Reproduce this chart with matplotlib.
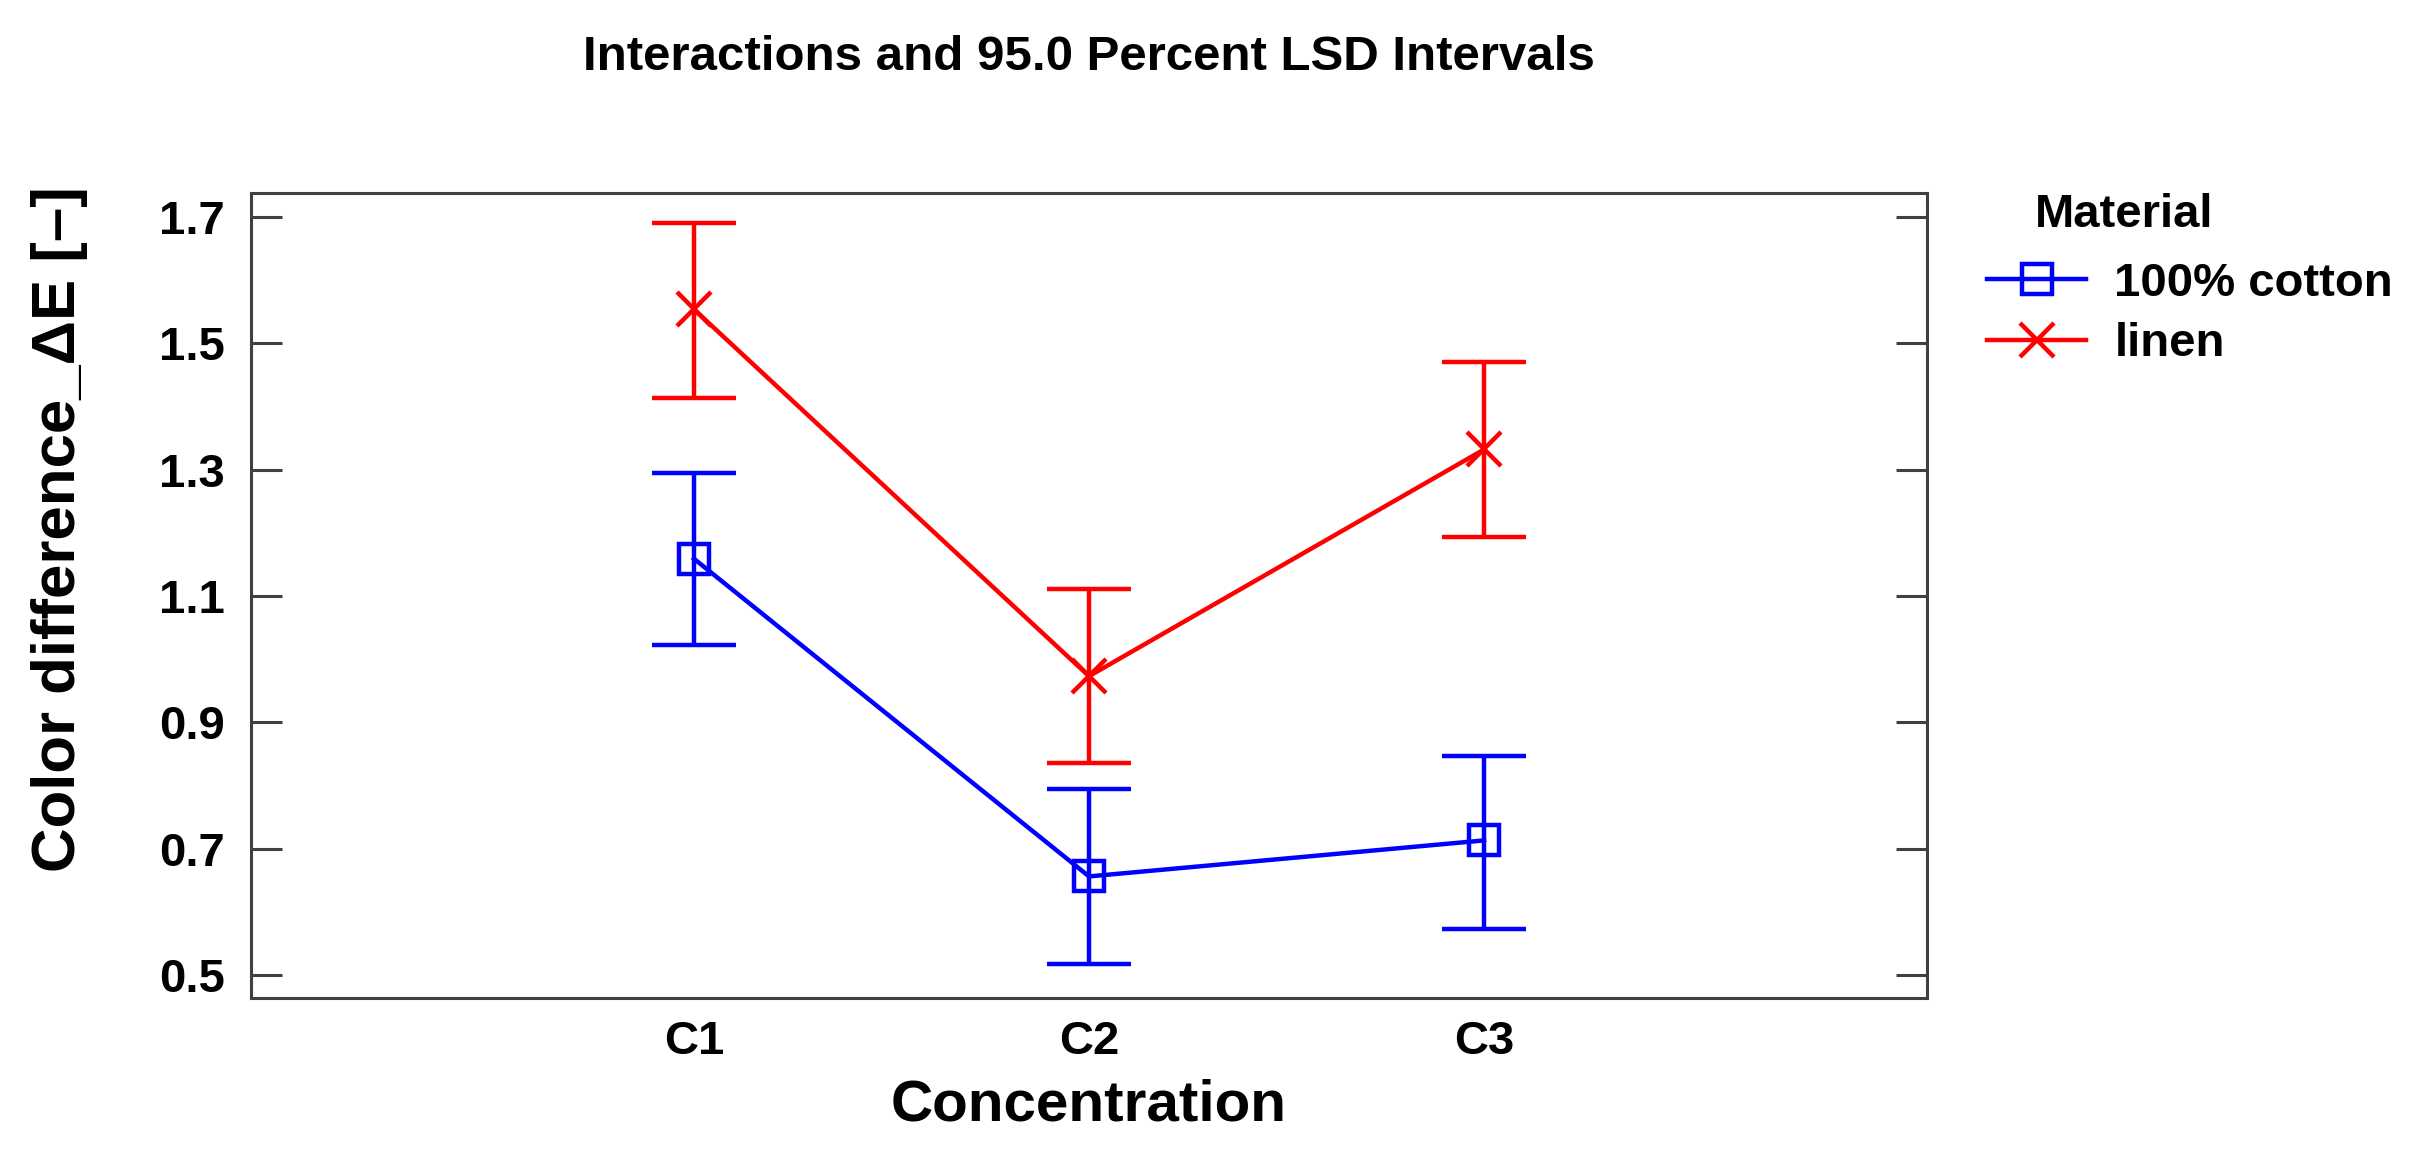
import numpy as np
import matplotlib
matplotlib.use("Agg")
from matplotlib import pyplot as plt

concentrations = ["C1", "C2", "C3"]
materials = ["100% cotton", "linen"]

cotton_mean = [1.159, 0.656, 0.713]
cotton_low = [1.022, 0.517, 0.573]
cotton_high = [1.294, 0.794, 0.846]

linen_mean = [1.554, 0.973, 1.332]
linen_low = [1.414, 0.835, 1.194]
linen_high = [1.690, 1.111, 1.470]

y_ticks = [0.5, 0.7, 0.9, 1.1, 1.3, 1.5, 1.7]

plt.rcParams["font.family"] = ["Liberation Sans", "DejaVu Sans"]
plt.rcParams["font.weight"] = "bold"

fig = plt.figure(figsize=(24.27, 11.5), dpi=100)
ax = fig.add_axes([251 / 2427, 1 - 998 / 1150, (1927 - 251) / 2427, (998 - 193) / 1150])

x = np.arange(1, len(concentrations) + 1)

series = [
    (cotton_mean, cotton_low, cotton_high, "#0000ff", "s", 21),
    (linen_mean, linen_low, linen_high, "#ff0000", "x", 25),
]

for name, (mean, low, high, color, marker, ms) in zip(materials, series):
    mean = np.array(mean)
    yerr = [mean - np.array(low), np.array(high) - mean]
    ax.errorbar(x, mean, yerr=yerr, fmt="none", ecolor=color,
                elinewidth=3.2, capsize=30, capthick=3.2, zorder=2)
    ax.plot(x, mean, color=color, lw=3.2, marker=marker, ms=ms,
            mfc="none", mec=color, mew=3.2, label=name, zorder=3)

ax.set_xlim(-0.121, 4.121)
ax.set_ylim(0.4635, 1.738)
ax.set_xticks(x)
ax.set_xticklabels(concentrations)
ax.set_yticks(y_ticks)
ax.set_yticklabels([f"{v:.1f}" for v in y_ticks])

for sp in ax.spines.values():
    sp.set_color("#404040")
    sp.set_linewidth(2.2)

ax.tick_params(axis="y", direction="in", length=22, width=2.2, color="#404040",
               left=True, right=True, labelsize=34, pad=19)
ax.tick_params(axis="x", length=0, labelsize=34, pad=16)

ax.set_xlabel("Concentration", fontsize=42, fontweight="bold", labelpad=10)
fig.text(60 / 2427, 1 - 529 / 1150, "Color difference_\u0394E [\u2013]", rotation=90,
         ha="center", va="center", fontsize=44.5, fontweight="bold")

fig.text(1089 / 2427, 1 - 58 / 1150, "Interactions and 95.0 Percent LSD Intervals",
         ha="center", va="center", fontsize=35.5, fontweight="bold")

fig.text(2035 / 2427, 1 - 215 / 1150, "Material", ha="left", va="center",
         fontsize=34, fontweight="bold")
leg = ax.legend(loc="upper left", bbox_to_anchor=(1987 / 2427, 1 - 262 / 1150),
                bbox_transform=fig.transFigure, frameon=False, fontsize=34,
                handlelength=2.1, handletextpad=0.6, labelspacing=0.34,
                borderpad=0, borderaxespad=0)

fig.savefig("out.png", dpi=100)
